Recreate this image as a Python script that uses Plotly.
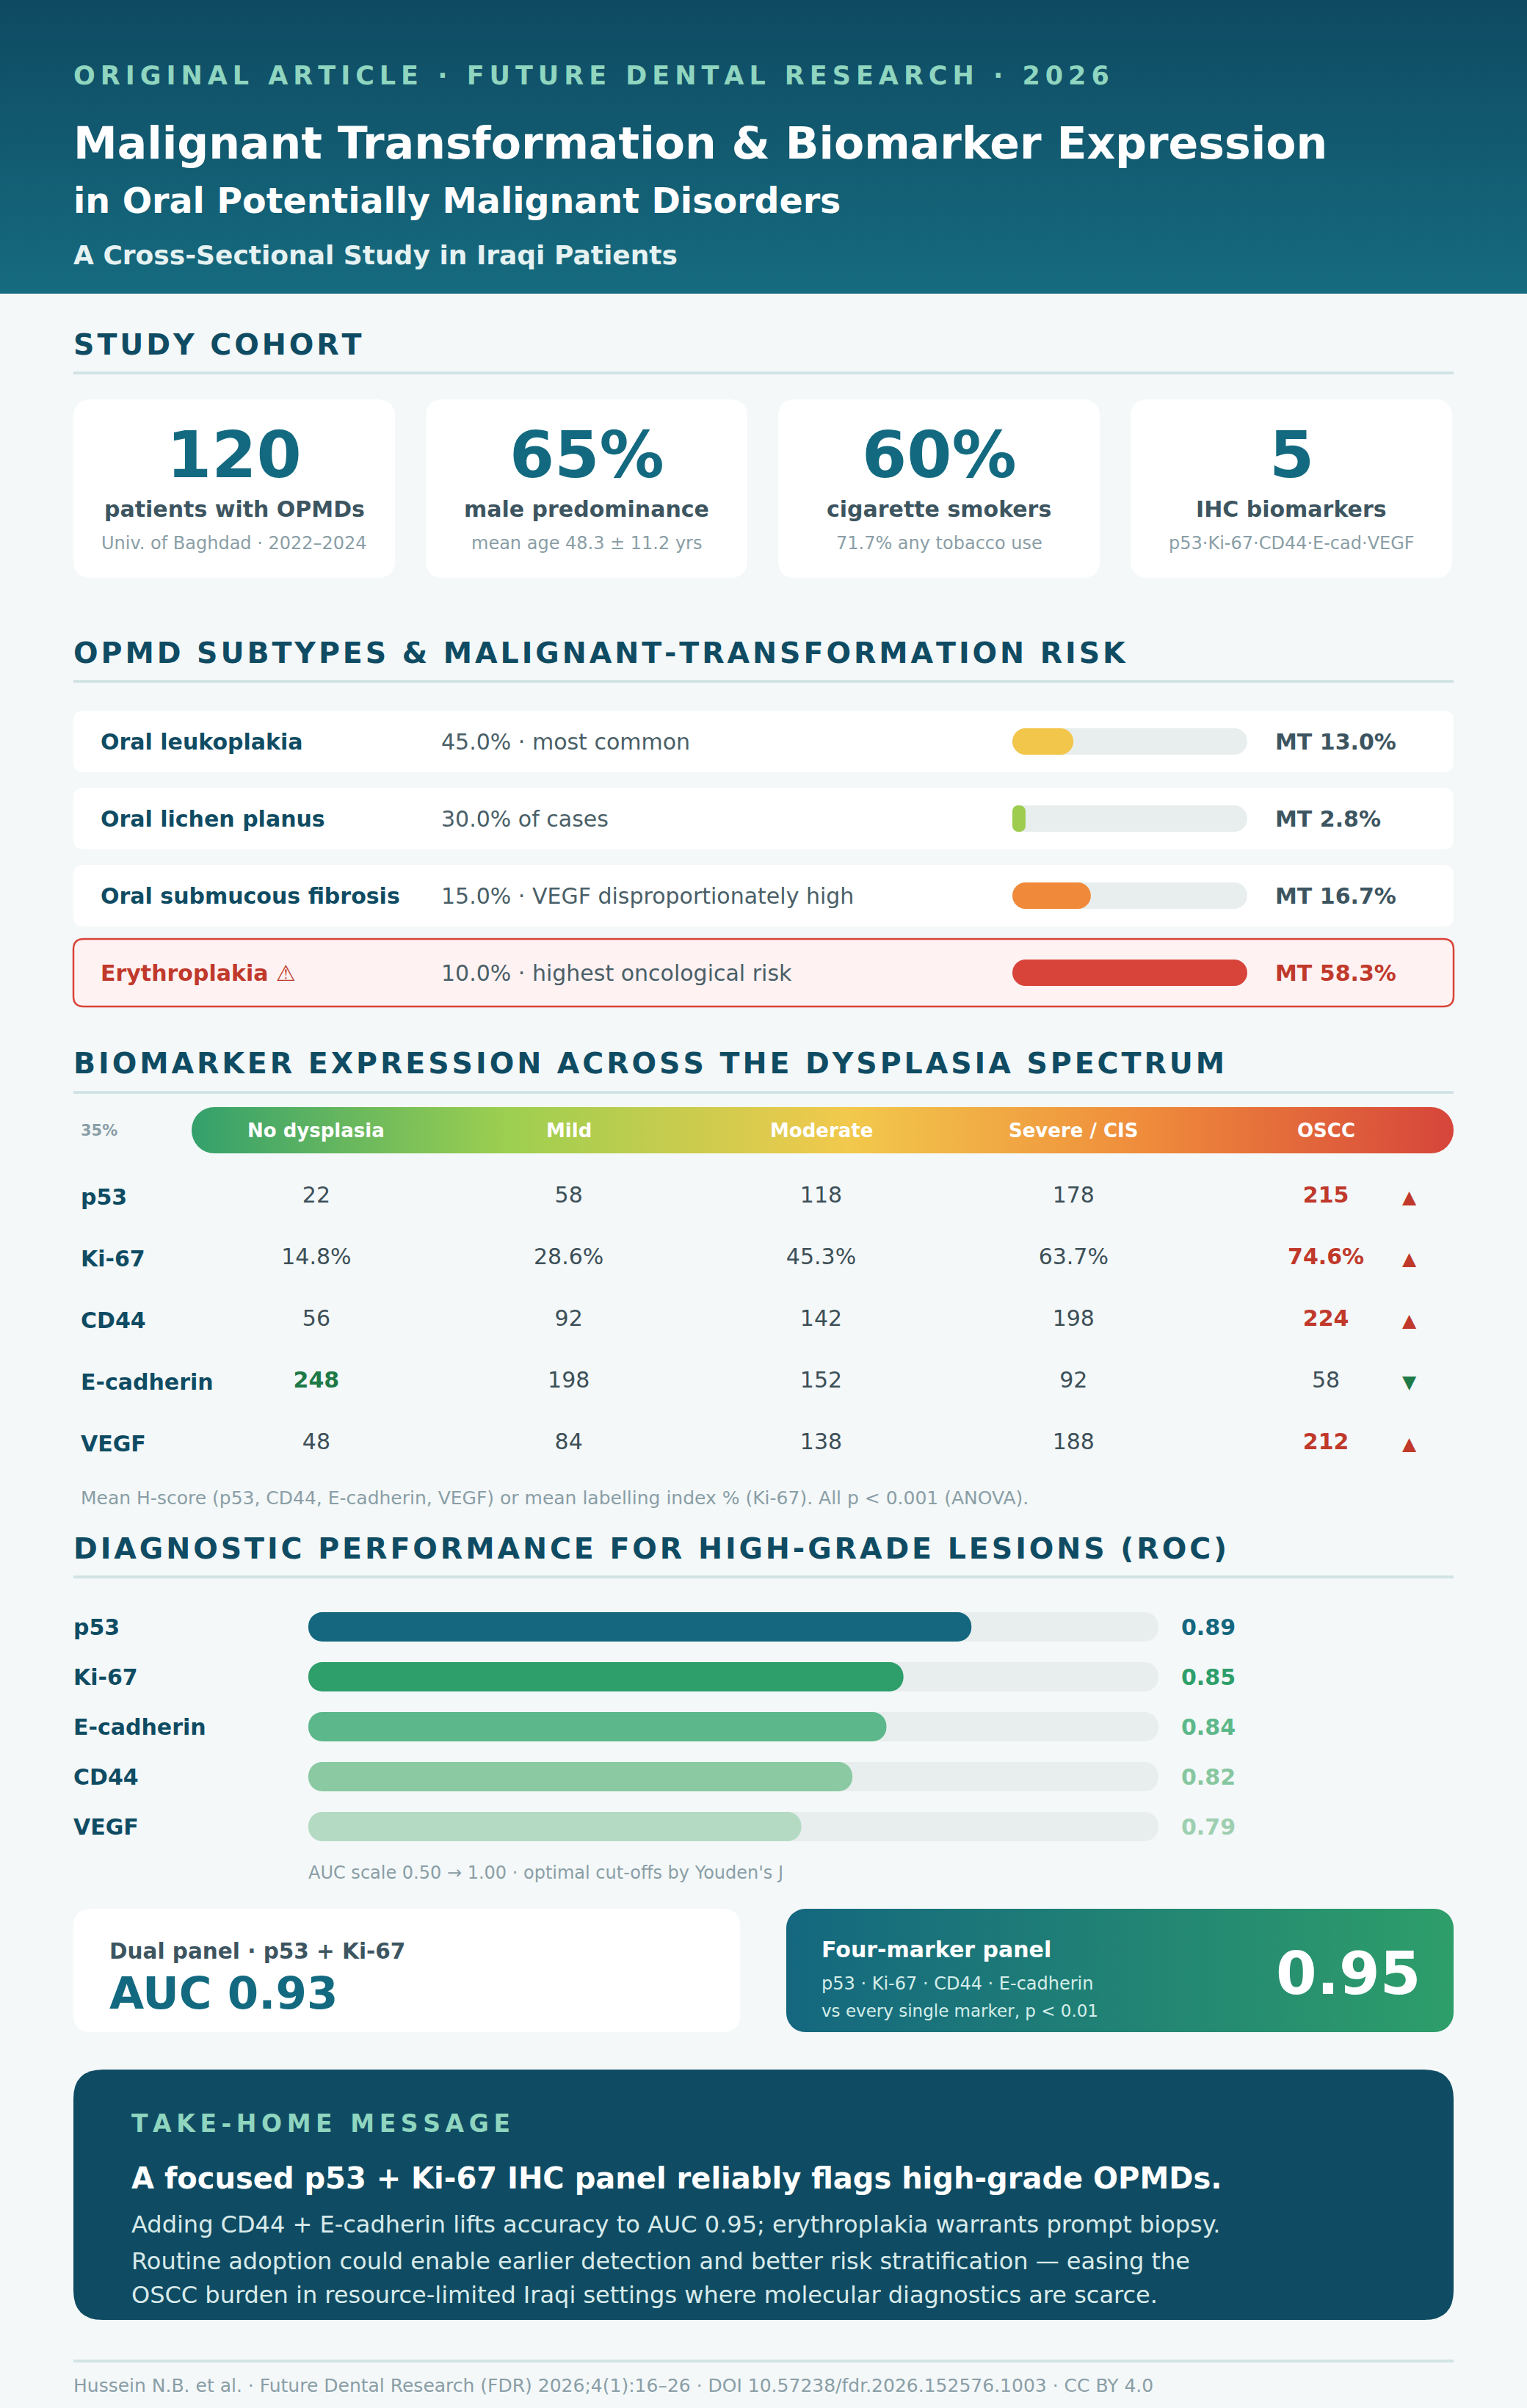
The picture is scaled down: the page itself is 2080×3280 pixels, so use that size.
import base64
import plotly.graph_objects as go

W, H = 2080, 3280
FONT = "DejaVu Sans"

# ---- data -------------------------------------------------------------
cohort_values = ["120", "65%", "60%", "5"]
cohort_labels = ["patients with OPMDs", "male predominance", "cigarette smokers", "IHC biomarkers"]
cohort_notes = ["Univ. of Baghdad · 2022–2024", "mean age 48.3 ± 11.2 yrs",
                "71.7% any tobacco use", "p53·Ki-67·CD44·E-cad·VEGF"]

subtypes = ["Oral leukoplakia", "Oral lichen planus", "Oral submucous fibrosis", "Erythroplakia ⚠"]
subtype_share = [45.0, 30.0, 15.0, 10.0]
subtype_notes = ["· most common", "of cases", "· VEGF disproportionately high", "· highest oncological risk"]
mt_rate = [13.0, 2.8, 16.7, 58.3]
subtype_colors = ["#f2c64b", "#9dcc4f", "#f08a3a", "#d8443a"]
RISK_AXIS_MAX = 50  # bar track = 0-50 % MT

stages = ["No dysplasia", "Mild", "Moderate", "Severe / CIS", "OSCC"]
markers = ["p53", "Ki-67", "CD44", "E-cadherin", "VEGF"]
p53_h = [22, 58, 118, 178, 215]
ki67_li = [14.8, 28.6, 45.3, 63.7, 74.6]
cd44_h = [56, 92, 142, 198, 224]
ecad_h = [248, 198, 152, 92, 58]
vegf_h = [48, 84, 138, 188, 212]
table_values = [p53_h, ki67_li, cd44_h, ecad_h, vegf_h]

roc_markers = ["p53", "Ki-67", "E-cadherin", "CD44", "VEGF"]
roc_auc = [0.89, 0.85, 0.84, 0.82, 0.79]
roc_colors = ["#14677f", "#2e9e6a", "#5cb88a", "#8ac9a2", "#b5dac4"]
roc_text_colors = ["#14677f", "#2e9e6a", "#5cb88a", "#86c7a0", "#9dcfb0"]
AUC_MIN, AUC_MAX = 0.5, 1.0
dual_auc = 0.93
four_auc = 0.95

# ---- colours ----------------------------------------------------------
BG = "#f4f8f9"
NAVY = "#0f4c63"
TEAL = "#136a80"
SLATE = "#3d5560"
GREY = "#8a9ea6"
RULE = "#d2e3e5"
TRACK = "#e8eeee"
MINT = "#8fd5bf"
RED = "#c0392b"
GREEN = "#1e7a46"


def fx(x):
    return x / W


def fy(y):
    return 1 - y / H


def spaced(s, sep="\u200a"):
    return sep.join(s)


def rrect(x0, y0, x1, y1, r, fill, line=None, lw=0):
    p = (f"M{fx(x0 + r)},{fy(y0)} L{fx(x1 - r)},{fy(y0)} Q{fx(x1)},{fy(y0)} {fx(x1)},{fy(y0 + r)} "
         f"L{fx(x1)},{fy(y1 - r)} Q{fx(x1)},{fy(y1)} {fx(x1 - r)},{fy(y1)} "
         f"L{fx(x0 + r)},{fy(y1)} Q{fx(x0)},{fy(y1)} {fx(x0)},{fy(y1 - r)} "
         f"L{fx(x0)},{fy(y0 + r)} Q{fx(x0)},{fy(y0)} {fx(x0 + r)},{fy(y0)} Z")
    return dict(type="path", path=p, xref="paper", yref="paper", fillcolor=fill,
                line=dict(color=line or fill, width=lw), layer="below")


def rule(y):
    return dict(type="rect", xref="paper", yref="paper", x0=fx(100), x1=fx(1980),
                y0=fy(y + 2), y1=fy(y - 2), fillcolor=RULE, line=dict(width=0), layer="below")


def gradient_img(x0, y0, x1, y1, stops, r=0, vertical=False):
    w, h = x1 - x0, y1 - y0
    x2, y2 = ("0", "1") if vertical else ("1", "0")
    st = "".join(f'<stop offset="{o}" stop-color="{c}"/>' for o, c in stops)
    svg = (f'<svg xmlns="http://www.w3.org/2000/svg" width="{w}" height="{h}" '
           f'viewBox="0 0 {w} {h}" preserveAspectRatio="none">'
           f'<defs><linearGradient id="g" x1="0" y1="0" x2="{x2}" y2="{y2}">{st}</linearGradient></defs>'
           f'<rect width="{w}" height="{h}" rx="{r}" ry="{r}" fill="url(#g)"/></svg>')
    uri = "data:image/svg+xml;base64," + base64.b64encode(svg.encode()).decode()
    return dict(source=uri, xref="paper", yref="paper", x=fx(x0), y=fy(y0),
                sizex=w / W, sizey=h / H, xanchor="left", yanchor="top",
                sizing="stretch", layer="below")


def txt(x, y, s, size, color, bold=False, anchor="left", xref="paper", yref="paper"):
    return dict(x=fx(x) if xref == "paper" else x, y=fy(y) if yref == "paper" else y,
                xref=xref, yref=yref, text=s, showarrow=False, xanchor=anchor, yanchor="middle",
                xshift=-2 if anchor == "left" else 0,
                font=dict(family=FONT, size=size, color=color, weight="bold" if bold else "normal"))


def pill(fig, cats, starts, ends, color, width, xa, ya, hover=None):
    # explicit base -> plotly rounds both ends of the bar
    fig.add_trace(go.Bar(y=cats, x=[b - a for a, b in zip(starts, ends)], base=starts,
                         orientation="h",
                         marker=dict(color=color, cornerradius="50%", line=dict(width=0)),
                         width=width, xaxis=xa, yaxis=ya,
                         customdata=hover, hoverinfo="skip" if hover is None else None,
                         hovertemplate=None if hover is None else "%{y}: %{customdata}<extra></extra>"))


shapes, annos, images = [], [], []

# ---- header -----------------------------------------------------------
images.append(gradient_img(0, 0, W, 400, [(0, "#0e4a62"), (1, "#166b7f")], vertical=True))
annos += [
    txt(100, 103, spaced("ORIGINAL ARTICLE · FUTURE DENTAL RESEARCH · 2026", "\u2009"), 35, MINT, True),
    txt(100, 195, "Malignant Transformation & Biomarker Expression", 60, "white", True),
    txt(100, 274, "in Oral Potentially Malignant Disorders", 47.5, "white", True),
    txt(100, 347, "A Cross-Sectional Study in Iraqi Patients", 36, "#e6f2f2", True),
]

# ---- study cohort -----------------------------------------------------
annos.append(txt(100, 469, spaced("STUDY COHORT"), 39.5, NAVY, True))
shapes.append(rule(508))
for i, (v, lab, note) in enumerate(zip(cohort_values, cohort_labels, cohort_notes)):
    x0 = 100 + i * 480
    shapes.append(rrect(x0, 544, x0 + 438, 787, 24, "white"))
    cx = x0 + 219
    annos += [txt(cx, 619, v, 88, TEAL, True, "center"),
              txt(cx, 694, lab, 30, SLATE, True, "center"),
              txt(cx, 740, note, 24, GREY, False, "center")]

# ---- OPMD subtypes ----------------------------------------------------
annos.append(txt(100, 889, spaced("OPMD SUBTYPES & MALIGNANT-TRANSFORMATION RISK"), 39.5, NAVY, True))
shapes.append(rule(928))
for i, name in enumerate(subtypes):
    cy = 1010 + 105 * i
    hot = mt_rate[i] == max(mt_rate)
    if hot:
        shapes.append(rrect(100, cy - 46, 1980, cy + 46, 14, "#fff2f2", "#d8443a", 2.5))
    else:
        shapes.append(rrect(100, cy - 42, 1980, cy + 42, 14, "white"))
    annos += [
        txt(137, name, name, 30, RED if hot else NAVY, True, yref="y"),
        txt(601, name, f"{subtype_share[i]:.1f}% {subtype_notes[i]}", 30, "#4a5f68", yref="y"),
        txt(1737, name, f"MT {mt_rate[i]:.1f}%", 30, RED if hot else SLATE, True, yref="y"),
    ]

# ---- biomarker table --------------------------------------------------
annos.append(txt(100, 1448, spaced("BIOMARKER EXPRESSION ACROSS THE DYSPLASIA SPECTRUM"), 39.5, NAVY, True))
shapes.append(rule(1488))
images.append(gradient_img(261, 1508, 1980, 1571,
                           [(0, "#33a06c"), (0.25, "#9dcf50"), (0.52, "#f2c94c"),
                            (0.76, "#ef8a3b"), (1, "#d6453b")], r=31))
annos.append(txt(110, 1540, "35%", 21, GREY, True))
for s in stages:
    annos.append(dict(x=s, xref="x3", y=fy(1540), yref="paper", text=s, showarrow=False,
                      xanchor="center", yanchor="middle",
                      font=dict(family=FONT, size=26, color="white", weight="bold")))

reg_x, reg_y, reg_t = [], [], []
pk_x, pk_y, pk_t, pk_c = [], [], [], []
for m, vals in zip(markers, table_values):
    annos.append(txt(110, m, m, 30, NAVY, True, yref="y3"))
    peak = vals.index(max(vals))
    for j, (s, v) in enumerate(zip(stages, vals)):
        label = f"{v:.1f}%" if m == "Ki-67" else str(v)
        if j == peak:
            pk_x.append(s); pk_y.append(m); pk_t.append(label)
            pk_c.append(RED if j == len(vals) - 1 else GREEN)
        else:
            reg_x.append(s); reg_y.append(m); reg_t.append(label)
    rising = vals[-1] > vals[0]
    annos.append(dict(x=4.33, xref="x3", y=m, yref="y3", text="▲" if rising else "▼",
                      showarrow=False, xanchor="center", yanchor="middle",
                      font=dict(family=FONT, size=25, color=RED if rising else GREEN)))
annos.append(txt(110, 2040, "Mean H-score (p53, CD44, E-cadherin, VEGF) or mean labelling index % (Ki-67). "
                 "All p < 0.001 (ANOVA).", 25, GREY))

# ---- ROC --------------------------------------------------------------
annos.append(txt(100, 2109, spaced("DIAGNOSTIC PERFORMANCE FOR HIGH-GRADE LESIONS (ROC)"), 39.5, NAVY, True))
shapes.append(rule(2148))
for m, a, c in zip(roc_markers, roc_auc, roc_text_colors):
    annos += [txt(100, m, m, 30, NAVY, True, yref="y2"),
              txt(1609, m, f"{a:.2f}", 30, c, True, yref="y2")]
annos.append(txt(420, 2551, "AUC scale 0.50 → 1.00 · optimal cut-offs by Youden's J", 24, GREY))

shapes.append(rrect(100, 2600, 1008, 2768, 24, "white"))
annos += [txt(149, 2658, "Dual panel · p53 + Ki-67", 29.5, SLATE, True),
          txt(149, 2714, f"AUC {dual_auc:.2f}", 61, TEAL, True)]
images.append(gradient_img(1071, 2600, 1980, 2768, [(0, "#14677f"), (1, "#2e9e6a")], r=26))
annos += [txt(1119, 2655, "Four-marker panel", 30, "white", True),
          txt(1119, 2702, "p53 · Ki-67 · CD44 · E-cadherin", 24, "#d6eeea"),
          txt(1119, 2739, "vs every single marker, p < 0.01", 23, "#d6eeea"),
          txt(1937, 2688, f"{four_auc:.2f}", 80, "white", True, "right")]

# ---- take-home --------------------------------------------------------
shapes.append(rrect(100, 2819, 1980, 3160, 40, NAVY))
annos += [
    txt(179, 2892, spaced("TAKE-HOME MESSAGE", "\u2009"), 33, MINT, True),
    txt(179, 2967, "A focused p53 + Ki-67 IHC panel reliably flags high-grade OPMDs.", 40, "white", True),
    txt(179, 3030, "Adding CD44 + E-cadherin lifts accuracy to AUC 0.95; erythroplakia warrants prompt biopsy.",
        32, "#d8eaea"),
    txt(179, 3080, "Routine adoption could enable earlier detection and better risk stratification — easing the",
        32, "#d8eaea"),
    txt(179, 3126, "OSCC burden in resource-limited Iraqi settings where molecular diagnostics are scarce.",
        32, "#d8eaea"),
]
shapes.append(rule(3216))
annos.append(txt(100, 3249, "Hussein N.B. et al. · Future Dental Research (FDR) 2026;4(1):16–26 · "
                 "DOI 10.57238/fdr.2026.152576.1003 · CC BY 4.0", 25, GREY))

# ---- traces -----------------------------------------------------------
fig = go.Figure()
n_sub = len(subtypes)
pill(fig, subtypes, [0] * n_sub, [RISK_AXIS_MAX] * n_sub, TRACK, 0.343, "x", "y")
pill(fig, subtypes, [0] * n_sub, [min(v, RISK_AXIS_MAX) for v in mt_rate], subtype_colors,
     0.343, "x", "y", hover=[f"MT {v}%" for v in mt_rate])
n_roc = len(roc_markers)
pill(fig, roc_markers, [AUC_MIN] * n_roc, [AUC_MAX] * n_roc, TRACK, 0.588, "x2", "y2")
pill(fig, roc_markers, [AUC_MIN] * n_roc, roc_auc, roc_colors, 0.588, "x2", "y2",
     hover=[f"AUC {a}" for a in roc_auc])
fig.add_trace(go.Scatter(x=reg_x, y=reg_y, text=reg_t, mode="text", xaxis="x3", yaxis="y3",
                         textfont=dict(family=FONT, size=30, color="#3d5058"), cliponaxis=False))
fig.add_trace(go.Scatter(x=pk_x, y=pk_y, text=pk_t, mode="text", xaxis="x3", yaxis="y3",
                         textfont=dict(family=FONT, size=30, color=pk_c, weight="bold"),
                         cliponaxis=False))

hidden = dict(visible=False, fixedrange=True)
fig.update_layout(
    width=W, height=H, margin=dict(l=0, r=0, t=0, b=0),
    paper_bgcolor=BG, plot_bgcolor="rgba(0,0,0,0)",
    showlegend=False, barmode="overlay",
    xaxis=dict(domain=[fx(1379), fx(1699)], range=[0, RISK_AXIS_MAX], **hidden),
    yaxis=dict(domain=[fy(1377.5), fy(957.5)], type="category", categoryorder="array",
               categoryarray=subtypes, range=[3.5, -0.5], **hidden),
    xaxis2=dict(domain=[fx(420), fx(1578)], range=[AUC_MIN, AUC_MAX], **hidden),
    yaxis2=dict(domain=[fy(2522), fy(2182)], type="category", categoryorder="array",
                categoryarray=roc_markers, range=[4.5, -0.5], **hidden),
    xaxis3=dict(domain=[fx(259), fx(1978)], type="category", categoryorder="array",
                categoryarray=stages, range=[-0.5, 4.5], **hidden),
    yaxis3=dict(domain=[fy(2008), fy(1588)], type="category", categoryorder="array",
                categoryarray=markers, range=[4.5, -0.5], **hidden),
    shapes=shapes, annotations=annos, images=images,
)

fig.write_html("out.html", config={"displayModeBar": False},
               post_script="document.body.style.margin='0';")
